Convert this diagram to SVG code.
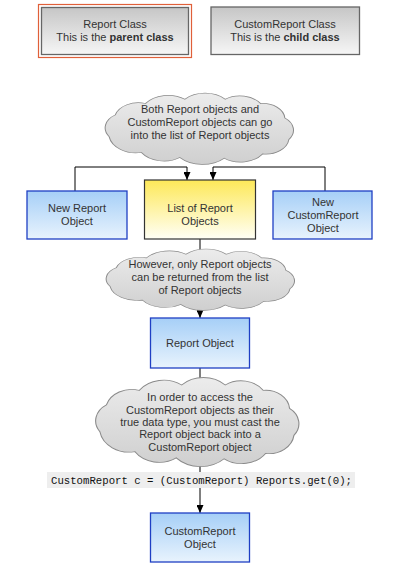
<svg xmlns="http://www.w3.org/2000/svg" width="400" height="569" viewBox="0 0 400 569">
<style>
text{font-family:"Liberation Sans",Arial,sans-serif;font-size:11px;fill:#333;text-anchor:middle}
.b{font-weight:bold}
.blue{fill:url(#gBlue);stroke:#1f3fc4;stroke-width:1.3}
.gray{fill:url(#gGray);stroke:#666;stroke-width:1.3}
.cloud{fill:url(#gCloud);stroke:#8a8a8a;stroke-width:1}
.conn{fill:none;stroke:#000;stroke-width:1}
.code{font-family:"Liberation Mono","Courier New",monospace;font-size:10.5px;fill:#111;text-anchor:start}
</style>
<defs>
<linearGradient id="gGray" x1="0" y1="0" x2="0" y2="1"><stop offset="0" stop-color="#c6c6c6"/><stop offset="1" stop-color="#f6f6f6"/></linearGradient>
<linearGradient id="gBlue" x1="0" y1="0" x2="0" y2="1"><stop offset="0" stop-color="#a6cff7"/><stop offset="1" stop-color="#e8f3fd"/></linearGradient>
<linearGradient id="gYellow" x1="0" y1="0" x2="0" y2="1"><stop offset="0" stop-color="#fde858"/><stop offset="1" stop-color="#fffff6"/></linearGradient>
<linearGradient id="gCloud" x1="0" y1="0" x2="0" y2="1"><stop offset="0" stop-color="#ececec"/><stop offset="1" stop-color="#cfcfcf"/></linearGradient>
<path id="cloudShape" d="M10,62 A21,21 0 0 1 16,32 A24,24 0 0 1 46,16 A28,28 0 0 1 85,10 A28,28 0 0 1 125,10 A25,25 0 0 1 160,16 A22,22 0 0 1 184,36 A21,21 0 0 1 188,66 A23,23 0 0 1 162,86 A27,27 0 0 1 124,92 A31,31 0 0 1 80,91 A27,27 0 0 1 42,84 A27,27 0 0 1 10,62 Z"/>
<marker id="arr" markerWidth="8" markerHeight="7" refX="8" refY="3.5" orient="auto" markerUnits="userSpaceOnUse"><path d="M0,0 L8,3.5 L0,7 Z" fill="#000"/></marker>
</defs>

<g id="connectors">
<path class="conn" d="M75,191 V167 H187 V180" marker-end="url(#arr)"/>
<path class="conn" d="M325,191 V167 H213 V180" marker-end="url(#arr)"/>
<path class="conn" d="M200,239 V318" marker-end="url(#arr)"/>
<path class="conn" d="M200,368 V513" marker-end="url(#arr)"/>
</g>

<g id="report-class">
<rect x="38.5" y="4.5" width="153" height="53" fill="#fff" stroke="#e0603a" stroke-width="1.2"/>
<rect x="41.5" y="7.5" width="147" height="47" class="gray"/>
<text x="115" y="28">Report Class</text>
<text x="115" y="41">This is the <tspan class="b">parent class</tspan></text>
</g>

<g id="customreport-class">
<rect x="211" y="7" width="148.5" height="47.5" class="gray"/>
<text x="285" y="28">CustomReport Class</text>
<text x="285" y="41">This is the <tspan class="b">child class</tspan></text>
</g>

<g id="cloud1">
<use href="#cloudShape" class="cloud" transform="translate(99,92) scale(1.01,0.72)"/>
<text x="200" y="113">Both Report objects and</text>
<text x="200" y="126">CustomReport objects can go</text>
<text x="200" y="139">into the list of Report objects</text>
</g>

<g id="new-report">
<rect x="27" y="191" width="100" height="48" class="blue"/>
<text x="77" y="212">New Report</text>
<text x="77" y="225">Object</text>
</g>

<g id="list">
<rect x="144.5" y="180" width="111" height="59" fill="url(#gYellow)" stroke="#333" stroke-width="1.2"/>
<text x="200" y="212">List of Report</text>
<text x="200" y="225">Objects</text>
</g>

<g id="new-customreport">
<rect x="273" y="191" width="99" height="48" class="blue"/>
<text x="323" y="206">New</text>
<text x="323" y="219">CustomReport</text>
<text x="323" y="232">Object</text>
</g>

<g id="cloud2">
<use href="#cloudShape" class="cloud" transform="translate(100,248) scale(1.01,0.62)"/>
<text x="200" y="268">However, only Report objects</text>
<text x="200" y="281">can be returned from the list</text>
<text x="200" y="294">of Report objects</text>
</g>

<g id="report-object">
<rect x="150.5" y="318" width="99" height="50" class="blue"/>
<text x="200" y="347">Report Object</text>
</g>

<g id="cloud3">
<use href="#cloudShape" class="cloud" transform="translate(89,376) scale(1.09,0.9)"/>
<text x="200" y="401">In order to access the</text>
<text x="200" y="414">CustomReport objects as their</text>
<text x="200" y="426">true data type, you must cast the</text>
<text x="200" y="438">Report object back into a</text>
<text x="200" y="451">CustomReport object</text>
</g>

<g id="code">
<rect x="47" y="472" width="308" height="16" fill="#eeeeee"/>
<text class="code" x="51" y="484" textLength="301" lengthAdjust="spacingAndGlyphs">CustomReport c = (CustomReport) Reports.get(0);</text>
</g>

<g id="customreport-object">
<rect x="150.5" y="513" width="99" height="49" class="blue"/>
<text x="200" y="535">CustomReport</text>
<text x="200" y="548">Object</text>
</g>
</svg>
